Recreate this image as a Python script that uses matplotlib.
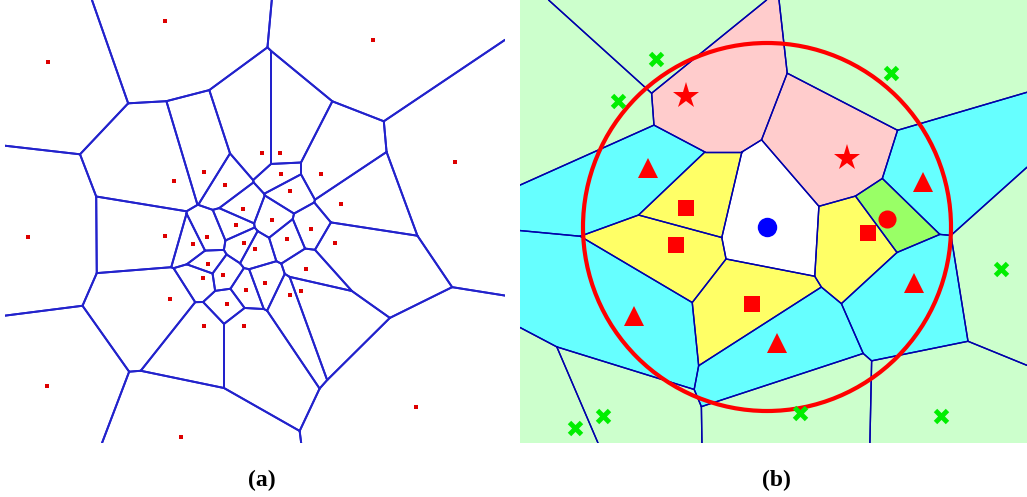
import numpy as np
import matplotlib
matplotlib.use("Agg")
import matplotlib.pyplot as plt
from matplotlib.patches import Polygon, Circle

# panel (a): generator points
sites_a_x = [165, 373, 48, 455, 174, 204, 225, 262, 280, 281, 321, 290, 341, 243,
             236, 272, 28, 165, 207, 193, 244, 255, 287, 335, 208, 223, 203, 246,
             311, 306, 265, 301, 290, 170, 227, 204, 244, 47, 181, 416]
sites_a_y = [21, 40, 62, 162, 181, 172, 185, 153, 153, 174, 174, 191, 204, 209,
             225, 220, 237, 236, 237, 244, 243, 249, 239, 243, 264, 275, 278, 290,
             229, 269, 283, 291, 295, 299, 304, 326, 326, 386, 437, 407]

# panel (b): generator points grouped by class
center_pt = (767, 227)
square_pts = [(686, 208), (676, 245), (752, 304), (868, 233)]
circle_pts = [(887, 219)]
star_pts = [(686, 96), (847, 158)]
triangle_pts = [(648, 168), (923, 182), (914, 283), (634, 316), (777, 343)]
cross_pts = [(656, 59), (618, 101), (891, 73), (1001, 269), (575, 428),
             (603, 416), (800, 413), (941, 416)]
ring_radius = 184

box_a = (5, 505, 0, 443)
box_b = (520, 1027, 0, 443)


def clip(poly, a, b, c):
    # keep the part of poly where a*x + b*y <= c
    out = []
    n = len(poly)
    for i in range(n):
        p, q = poly[i], poly[(i + 1) % n]
        fp = a * p[0] + b * p[1] - c
        fq = a * q[0] + b * q[1] - c
        if fp <= 0:
            out.append(p)
        if fp * fq < 0:
            t = fp / (fp - fq)
            out.append((p[0] + t * (q[0] - p[0]), p[1] + t * (q[1] - p[1])))
    return out


def voronoi_cells(pts, box):
    x0, x1, y0, y1 = box
    pts = np.asarray(pts, float)
    cells = []
    for i, s in enumerate(pts):
        poly = [(x0, y0), (x1, y0), (x1, y1), (x0, y1)]
        for j, t in enumerate(pts):
            if i == j:
                continue
            d = t - s
            poly = clip(poly, d[0], d[1], (t @ t - s @ s) / 2)
            if not poly:
                break
        cells.append(poly)
    return cells


def draw_edges(ax, cells, box, color, lw):
    x0, x1, y0, y1 = box
    eps = 1e-6
    for poly in cells:
        n = len(poly)
        for i in range(n):
            p, q = poly[i], poly[(i + 1) % n]
            on_box = ((abs(p[0] - x0) < eps and abs(q[0] - x0) < eps) or
                      (abs(p[0] - x1) < eps and abs(q[0] - x1) < eps) or
                      (abs(p[1] - y0) < eps and abs(q[1] - y0) < eps) or
                      (abs(p[1] - y1) < eps and abs(q[1] - y1) < eps))
            if not on_box:
                ax.plot([p[0], q[0]], [p[1], q[1]], color=color, lw=lw,
                        solid_capstyle="round", zorder=2)


W, H = 1027, 497
fig = plt.figure(figsize=(W / 100, H / 100), dpi=100)


def panel_axes(box):
    x0, x1, y0, y1 = box
    ax = fig.add_axes([x0 / W, 1 - y1 / H, (x1 - x0) / W, (y1 - y0) / H])
    ax.set_xlim(x0, x1)
    ax.set_ylim(y1, y0)
    ax.axis("off")
    return ax


# (a) plain Voronoi diagram
ax_a = panel_axes(box_a)
cells_a = voronoi_cells(list(zip(sites_a_x, sites_a_y)), box_a)
draw_edges(ax_a, cells_a, box_a, "#2222cc", 1.4)
ax_a.plot(sites_a_x, sites_a_y, "s", color="#dd0000", ms=3, mew=0, zorder=3)

# (b) coloured cells by class
ax_b = panel_axes(box_b)
groups = [
    ([center_pt], "white"),
    (square_pts, "#ffff66"),
    (circle_pts, "#99ff66"),
    (star_pts, "#ffcccc"),
    (triangle_pts, "#66ffff"),
    (cross_pts, "#ccffcc"),
]
all_pts = [p for g, _ in groups for p in g]
fills = [c for g, c in groups for _ in g]
cells_b = voronoi_cells(all_pts, box_b)
for poly, fc in zip(cells_b, fills):
    ax_b.add_patch(Polygon(poly, closed=True, facecolor=fc, edgecolor="none", zorder=1))
draw_edges(ax_b, cells_b, box_b, "#0000aa", 1.0)

ax_b.add_patch(Circle(center_pt, ring_radius, fill=False, edgecolor="#ff0000",
                      lw=3, zorder=4))
ax_b.plot(*center_pt, "o", color="#0000ff", ms=14, mew=0, zorder=5)
ax_b.plot(*zip(*square_pts), "s", color="#ff0000", ms=11.5, mew=0, zorder=5, ls="none")
ax_b.plot(*zip(*circle_pts), "o", color="#ff0000", ms=13, mew=0, zorder=5, ls="none")
ax_b.plot(*zip(*star_pts), "*", color="#ff0000", ms=20, mew=0, zorder=5, ls="none")
ax_b.plot(*zip(*triangle_pts), "^", color="#ff0000", ms=14, mew=0, zorder=5, ls="none")
ax_b.plot(*zip(*cross_pts), "x", color="#00ee00", ms=9, mew=3.5, zorder=5, ls="none")

fig.text(262 / W, 1 - 480 / H, "(a)", ha="center", va="center",
         family="Liberation Serif", weight="bold", fontsize=17)
fig.text(776 / W, 1 - 480 / H, "(b)", ha="center", va="center",
         family="Liberation Serif", weight="bold", fontsize=17)

fig.savefig("out.png", dpi=100)
